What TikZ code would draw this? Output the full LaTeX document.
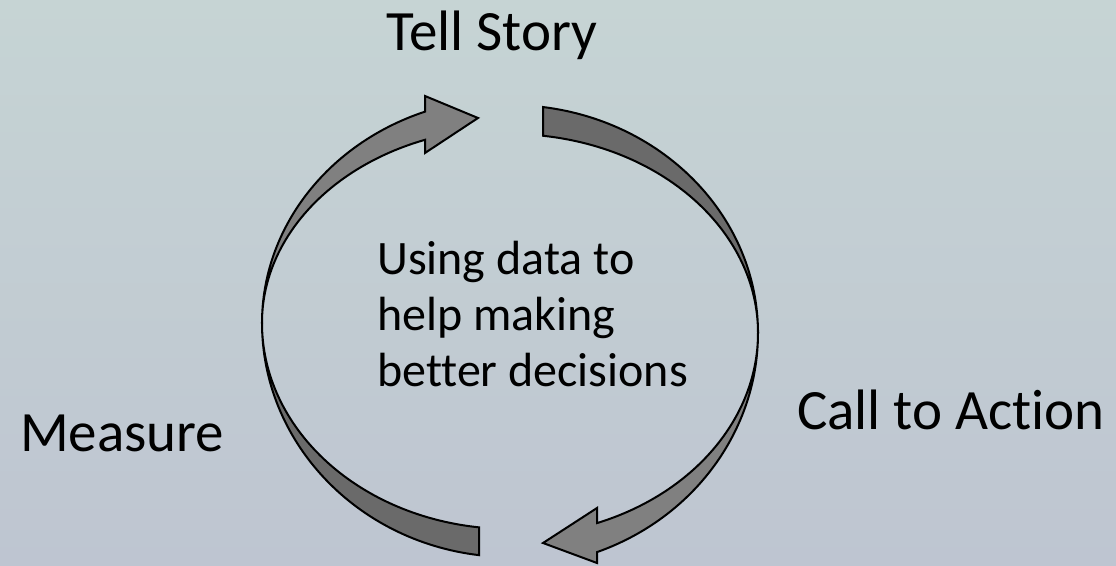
\documentclass[tikz,border=0pt]{standalone}
\usepackage{fontspec}
\setmainfont{Carlito}[Ligatures=NoCommon]
\definecolor{bgtop}{HTML}{C6D4D4}
\definecolor{bgbot}{HTML}{BEC5D1}
\definecolor{frontgray}{HTML}{808080}
\definecolor{backgray}{HTML}{6A6A6A}
\begin{document}
\begin{tikzpicture}[x=1pt,y=1pt,
  band/.style={draw=black,line width=2pt,line join=miter},
  lbl/.style={inner sep=0pt,font=\fontsize{57}{68}\selectfont,text=black},
  ctr/.style={inner sep=0pt,font=\fontsize{48}{58}\selectfont,text=black,anchor=base west}]
\useasboundingbox (0,0) rectangle (1116,565);
\shade[top color=bgtop,bottom color=bgbot] (0,0) rectangle (1116,565);
% left arrow: back (bottom) half
\path[band,fill=backgray] (262,242) arc[start angle=180,end angle=262.82,x radius=248pt,y radius=234pt]
  -- ++(0,27.8) arc[start angle=262.82,end angle=180,x radius=248pt,y radius=206pt] -- cycle;
% right arrow: back (top) half
\path[band,fill=backgray] (758,232) arc[start angle=0,end angle=82.35,x radius=248pt,y radius=228pt]
  -- ++(0,-28.74) arc[start angle=82.35,end angle=0,x radius=248pt,y radius=199pt] -- cycle;
% left arrow: front (top) half with head
\path[band,fill=frontgray] (262,242) arc[start angle=180,end angle=110.04,x radius=248pt,y radius=225pt]
  -- (425,469) -- (478,447) -- (425,412) -- (425,425.2)
  arc[start angle=110.04,end angle=180,x radius=248pt,y radius=195pt] -- cycle;
% right arrow: front (bottom) half with head
\path[band,fill=frontgray] (758,232) arc[start angle=0,end angle=-69.46,x radius=248pt,y radius=234pt]
  -- (597,2) -- (543,22) -- (597,57) -- (597,41.9)
  arc[start angle=-69.46,end angle=0,x radius=248pt,y radius=203pt] -- cycle;
% labels
\node[lbl,anchor=base] (tell) at (492,514) {Tell Story};
\node[lbl,anchor=base west] (cta) at (797,135) {Call to Action};
\node[lbl,anchor=base west] (meas) at (20,113) {Measure};
\node[ctr] (c1) at (377,290) {Using data to};
\node[ctr] (c2) at (377,234) {help making};
\node[ctr] (c3) at (377,178) {better decisions};
\end{tikzpicture}
\end{document}
